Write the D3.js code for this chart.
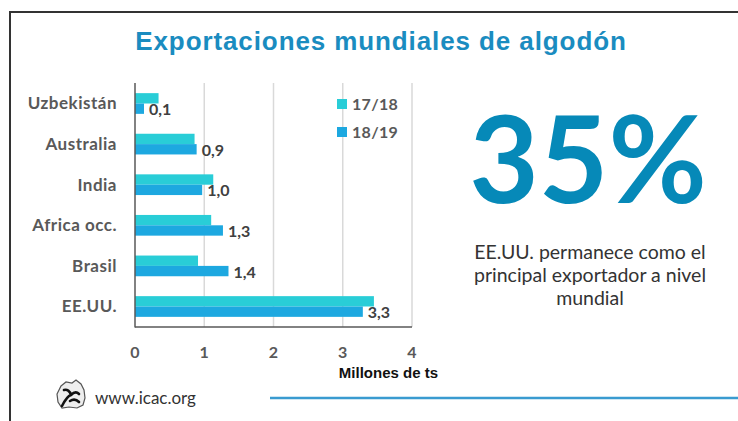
<!DOCTYPE html>
<html><head><meta charset="utf-8">
<script src="https://cdn.jsdelivr.net/npm/d3@7"></script>
<style>body{margin:0;background:#fff;}svg{display:block;}</style>
</head><body>
<svg id="c" width="738" height="421"></svg>
<script>
const categories = ["Uzbekistán","Australia","India","Africa occ.","Brasil","EE.UU."];
const seriesNames = ["17/18","18/19"];
const values1718 = [0.34, 0.86, 1.13, 1.10, 0.91, 3.45];
const values1819 = [0.13, 0.89, 0.97, 1.27, 1.35, 3.29];
const valueLabels = ["0,1","0,9","1,0","1,3","1,4","3,3"];
const xTicks = [0,1,2,3,4];
const colors = ["#29CDD7","#1DA8E0"];

const svg = d3.select("#c");
// frame
svg.append("path").attr("d","M10,421 V12 H738").attr("fill","none").attr("stroke","#333").attr("stroke-width",2);

svg.append("text").attr("x",381).attr("y",50).attr("text-anchor","middle")
  .attr("font-family","Liberation Sans, Arial").attr("font-weight","bold").attr("font-size",26)
  .attr("letter-spacing",0.9).attr("fill","#1A8CC0").text("Exportaciones mundiales de algodón");

const x = d3.scaleLinear().domain([0,4]).range([135,412]);
const y = d3.scaleBand().domain(categories).range([83,327]).paddingInner(0.49).paddingOuter(0.25);
const sub = d3.scaleBand().domain(seriesNames).range([0,y.bandwidth()]);

// grid
svg.append("g").selectAll("line").data(xTicks.slice(1)).join("line")
  .attr("x1",d=>x(d)).attr("x2",d=>x(d)).attr("y1",83).attr("y2",327)
  .attr("stroke","#D9D9D9").attr("stroke-width",1.5);

const series = [values1718, values1819];
series.forEach((vals,si)=>{
  svg.append("g").selectAll("rect").data(vals).join("rect")
    .attr("x",x(0)).attr("y",(d,i)=>y(categories[i])+sub(seriesNames[si]))
    .attr("width",d=>x(d)-x(0)).attr("height",sub.bandwidth())
    .attr("fill",colors[si]);
});

// axes lines
svg.append("line").attr("x1",x(0)).attr("x2",x(0)).attr("y1",83).attr("y2",327.5).attr("stroke","#595959").attr("stroke-width",1.5);
svg.append("line").attr("x1",x(0)).attr("x2",x(4)).attr("y1",327).attr("y2",327).attr("stroke","#595959").attr("stroke-width",1.5);

// category labels
svg.append("g").selectAll("text").data(categories).join("text")
  .attr("x",117).attr("y",d=>y(d)+y.bandwidth()/2).attr("dy","0.35em")
  .attr("text-anchor","end").attr("font-family","Lato").attr("font-weight","bold")
  .attr("font-size",17).attr("letter-spacing",0.5).attr("fill","#595959").text(d=>d);

// tick labels
svg.append("g").selectAll("text").data(xTicks).join("text")
  .attr("x",d=>x(d)).attr("y",352).attr("dy","0.35em").attr("text-anchor","middle")
  .attr("font-family","Lato").attr("font-weight","bold").attr("font-size",16).attr("fill","#595959").text(d=>d);

// value labels
svg.append("g").selectAll("text").data(values1819).join("text")
  .attr("x",d=>x(d)+5).attr("y",(d,i)=>y(categories[i])+sub("18/19")+sub.bandwidth()/2+1).attr("dy","0.35em")
  .attr("font-family","Lato").attr("font-weight","bold").attr("font-size",16).attr("fill","#404040").text((d,i)=>valueLabels[i]);

svg.append("text").attr("x",438).attr("y",373).attr("dy","0.35em").attr("text-anchor","end")
  .attr("font-family","Liberation Sans, Arial").attr("font-weight","bold").attr("font-size",15).attr("fill","#111").text("Millones de ts");

// legend
seriesNames.forEach((s,i)=>{
  const ly = 104 + i*28;
  svg.append("rect").attr("x",337).attr("y",ly-5).attr("width",10).attr("height",10).attr("fill",colors[i]);
  svg.append("text").attr("x",352).attr("y",ly).attr("dy","0.35em").attr("font-family","Lato").attr("font-weight","bold")
    .attr("font-size",16).attr("letter-spacing",0.3).attr("fill","#595959").text(s);
});

// big number
svg.append("text").attr("x",588).attr("y",203).attr("text-anchor","middle")
  .attr("font-family","Lato").attr("font-weight","bold").attr("font-size",120).attr("fill","#0689B8").text("35%");

const para = ["EE.UU. permanece como el","principal exportador a nivel","mundial"];
svg.append("g").selectAll("text").data(para).join("text")
  .attr("x",590).attr("y",(d,i)=>252+i*23).attr("dy","0.35em").attr("text-anchor","middle")
  .attr("font-family","Lato").attr("font-size",19.5).attr("fill","#333").text(d=>d);

// footer
const logo = svg.append("g").attr("transform","translate(57,380)");
logo.append("path").attr("d","M4,6 L9,2 L15,3 L19,0 L24,4 L27,10 L28,18 L26,25 L20,28 L12,27 L5,28 L1,22 L0,14 Z")
  .attr("fill","#eeeeee").attr("stroke","#555").attr("stroke-width",1.2);
logo.append("path").attr("d","M5,26 C8,20 11,16 14,15 M14,15 C13,11 10,9 7,10 M14,15 C17,12 20,12 22,14 M13,21 C16,19 19,19 22,22")
  .attr("fill","none").attr("stroke","#111").attr("stroke-width",2.6).attr("stroke-linecap","round");
svg.append("text").attr("x",95).attr("y",398).attr("dy","0.35em").attr("font-family","Lato")
  .attr("font-size",17).attr("fill","#333").text("www.icac.org");
svg.append("line").attr("x1",270).attr("x2",738).attr("y1",398).attr("y2",398).attr("stroke","#3A9BD0").attr("stroke-width",2.5);
</script>
</body></html>
